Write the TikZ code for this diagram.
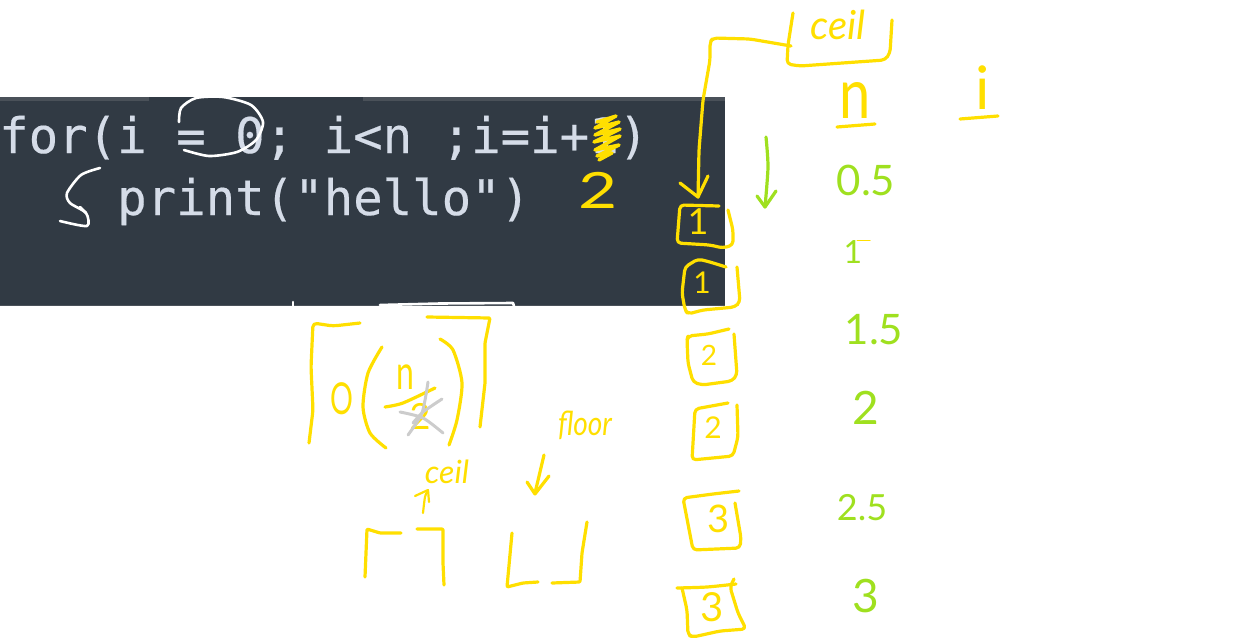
\documentclass[tikz,border=0pt]{standalone}
\usepackage{fontspec}
\setmainfont{Lato}
\newfontfamily\codefont{DejaVu Sans Mono}[FakeBold=0.35]
\newfontfamily\handfont{Lato}[ItalicFont=* Italic]
\definecolor{ybl}{HTML}{FFDF00}
\definecolor{grn}{HTML}{9FE01F}
\definecolor{panel}{HTML}{313A44}
\definecolor{band}{HTML}{4A5159}
\definecolor{codetx}{HTML}{D5DCE8}
\newcommand{\fs}[1]{\fontsize{#1}{#1}\selectfont}
\tikzset{
  pen/.style={draw=ybl,line width=3.2pt,line cap=round,line join=round},
  thinpen/.style={pen,line width=2.2pt},
  gpen/.style={pen,draw=grn},
  wpen/.style={draw=white,line width=2.6pt,line cap=round,line join=round},
  greypen/.style={draw=black!20,line width=3pt,line cap=round,line join=round},
  code/.style={anchor=base west,inner sep=0pt,text=codetx,font=\codefont\fs{49}},
  ylab/.style={inner sep=0pt,text=ybl,font=\handfont},
  glab/.style={inner sep=0pt,text=grn,font=\handfont},
  sm/.style={smooth,tension=0.45},
  cn/.style={rounded corners=4pt}
}
\begin{document}
\begin{tikzpicture}[x=1pt,y=-1pt]
\useasboundingbox (0,0) rectangle (1252,642);
% panel
\fill[panel] (0,97) rectangle (725,306);
\fill[band] (0,97) rectangle (149,101);
\fill[band] (363,97) rectangle (725,101);
\fill[band] (0,304.5) rectangle (725,306);
\node[code] (line1) at (-1,153) {for(i = 0; i<n ;i=i+1)};
\node[code] (line2) at (117,215) {print("hello")};
% white annotations
\draw[wpen] plot[sm] coordinates {(179,122)(181,108)(196,98)(223,97)(251,105)(263,122)(256,140)(237,152)(209,156)(184,150)};
\draw[wpen] plot[sm] coordinates {(100,168)(81,175)(67,193)(70,203)(86,213)(87,226)(60,221)};
\draw[wpen] (80,207) -- (86,213);
\draw[wpen] (293,302) -- (293,306);
\draw[wpen] (380,305) -- (440,303.5) -- (513,303) -- (514,306);
% scribble over the last digit
\draw[pen,line width=3.4pt] (597,122) -- (616,116) -- (595,128) -- (619,122) -- (595,135) -- (620,129) -- (594,142) -- (620,136) -- (595,150) -- (619,145) -- (597,156) -- (612,153) -- (599,160);
\node[ylab,font=\handfont\fs{50},xscale=1.35] (two) at (598,190) {2};
% ceil box and connector
\draw[pen,cn] plot coordinates {(793,13)(788,45)(787,64)(800,66)(885,60)(890,53)(892,20)};
\node[ylab,font=\handfont\itshape\fs{40}] (ceilA) at (838,25) {ceil};
\draw[pen,cn] plot coordinates {(791,46)(750,39)(713,38)(710,42)(710,60)(703,100)(699,150)(698,197)};
\draw[pen] (680,183) -- (698,197) -- (708,176);
\node[ylab,font=\handfont\fs{56},yscale=1.25] (hn) at (855,100) {n};
\draw[pen] (837,127) -- (875,124);
\node[ylab,font=\handfont\fs{60}] (hi) at (983,88) {i};
\draw[pen] (960,119) -- (998,116);
% green column
\draw[gpen] plot[sm] coordinates {(766,137)(768,167)(765,207)};
\draw[gpen] (757,196) -- (765,207) -- (776,191);
\node[glab,font=\handfont\fs{42}] (g1) at (866,180) {0.5};
\node[glab,font=\handfont\fs{32}] (g2) at (853,252) {1};
\draw[draw=ybl,line width=1pt,line cap=round] (857,240) -- (870,240);
\node[glab,font=\handfont\fs{42}] (g3) at (874,330) {1.5};
\node[glab,font=\handfont\fs{46}] (g4) at (866,408) {2};
\node[glab,font=\handfont\fs{36}] (g5) at (862,508) {2.5};
\node[glab,font=\handfont\fs{46}] (g6) at (866,596) {3};
% boxes
\draw[pen,cn] plot coordinates {(719,206)(680,205)(677,243)(710,245)(723,248)(733,245)(733,230)(728,210)};
\node[ylab,font=\handfont\fs{36}] (b1) at (698,222) {1};
\draw[pen,cn] plot coordinates {(726,267)(710,262)(698,259)(685,267)(682,293)(685,310)(688,314)(703,310)(735,307)(740,302)(737,267)};
\node[ylab,font=\handfont\fs{30}] (b2) at (702,283) {1};
\draw[pen,cn] plot coordinates {(729,329)(708,334)(688,336)(687,340)(688,363)(693,382)(702,385)(732,381)(737,375)(734,334)};
\node[ylab,font=\handfont\fs{28}] (b3) at (709,355) {2};
\draw[pen,cn] plot coordinates {(728,403)(695,409)(692,460)(733,456)(738,437)(737,405)};
\node[ylab,font=\handfont\fs{30}] (b4) at (713,428) {2};
\draw[pen,cn] plot coordinates {(739,491)(713,494)(683,498)(693,550)(740,548)(741,538)(735,503)};
\node[ylab,font=\handfont\fs{38}] (b5) at (719,519) {3};
\draw[pen] plot[sm] coordinates {(677,588)(707,587)(736,584)};
\draw[pen,cn] plot coordinates {(682,588)(687,610)(688,635)(693,637)(720,631)(746,629)(738,613)(730,587)(734,579)};
\node[ylab,font=\handfont\fs{40}] (b6) at (712,607) {3};
% big formula
\draw[pen,cn] plot coordinates {(309,443)(313,410)(311,367)(313,323)(333,326)(360,323)};
\draw[pen,rounded corners=1pt] plot coordinates {(427,317)(490,318)(485,343)(485,383)(480,427)};
\draw[pen] plot[sm] coordinates {(382,347)(368,373)(363,407)(370,433)(386,448)};
\draw[pen] plot[sm] coordinates {(440,339)(453,350)(462,383)(457,420)(449,445)};
\node[ylab,font=\handfont\fs{44},xscale=0.65] (oh) at (342,399) {O};
\node[ylab,font=\handfont\fs{32},yscale=1.5] (fn) at (405,377) {n};
\draw[pen] plot[sm] coordinates {(385,407)(403,403)(435,388)};
\node[ylab,font=\handfont\fs{36}] (f2) at (420,416) {2};
\draw[greypen] plot[sm] coordinates {(428,382)(422,413)(408,435)};
\draw[greypen] plot[sm] coordinates {(400,412)(423,418)(443,433)};
\draw[greypen] plot[sm] coordinates {(442,399)(423,412)(413,423)};
% ceil and floor notes
\node[ylab,font=\handfont\itshape\fs{32}] (ceilB) at (447,472) {ceil};
\node[ylab,font=\handfont\itshape\fs{28},yscale=1.2] (floorA) at (585,425) {floor};
\draw[thinpen] plot[sm] coordinates {(423,513)(425,497)(428,490)};
\draw[thinpen] (415,496) -- (428,490) -- (429,502);
\draw[pen] (544,455) -- (535,493);
\draw[pen] (527,482) -- (535,494) -- (549,476);
\draw[pen,rounded corners=1pt] plot coordinates {(365,577)(367,529)(380,533)(401,533)};
\draw[pen,rounded corners=1pt] plot coordinates {(417,529)(443,529)(443,563)(444,585)};
\draw[pen,rounded corners=1pt] plot coordinates {(512,533)(507,587)(523,583)(538,582)};
\draw[pen,rounded corners=1pt] plot coordinates {(552,583)(580,582)(582,553)(587,522)};
\end{tikzpicture}
\end{document}
